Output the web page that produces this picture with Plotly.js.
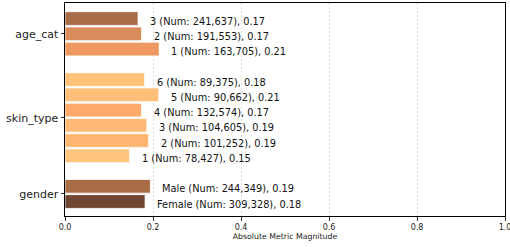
<!DOCTYPE html>
<html>
<head>
<meta charset="utf-8">
<script src="https://cdn.plot.ly/plotly-3.0.1.min.js"></script>
<style>html,body{margin:0;padding:0;background:#fff;}#chart{width:510px;height:247px;}</style>
</head>
<body>
<div id="chart"></div>
<script>
// Groups, bottom to top
const groupNames = ['gender', 'skin_type', 'age_cat'];

const genderLabels = ['Female', 'Male'];
const genderValues = [0.182, 0.194];
const genderNums = [309328, 244349];
const genderColors = ['#6e4530', '#a86c47'];

const skinLabels = ['1', '2', '3', '4', '5', '6'];
const skinValues = [0.147, 0.190, 0.186, 0.174, 0.213, 0.181];
const skinNums = [78427, 101252, 104605, 132574, 90662, 89375];
const skinColors = ['#ffc47e', '#ffb673', '#ffb975', '#ffaa6b', '#ffbf78', '#ffc27b'];

const ageLabels = ['1', '2', '3'];
const ageValues = [0.214, 0.174, 0.166];
const ageNums = [163705, 191553, 241637];
const ageColors = ['#ee9862', '#d98b5b', '#a86c47'];

const xTicks = [0, 0.2, 0.4, 0.6, 0.8, 1.0];

const groups = [
  {labels: genderLabels, values: genderValues, nums: genderNums, colors: genderColors},
  {labels: skinLabels, values: skinValues, nums: skinNums, colors: skinColors},
  {labels: ageLabels, values: ageValues, nums: ageNums, colors: ageColors}
];

// stack groups with one empty slot between them
let ys = [], xs = [], cols = [], texts = [], tickPos = [];
let pos = 0;
groups.forEach((g, gi) => {
  const start = pos;
  g.values.forEach((v, i) => {
    ys.push(pos); xs.push(v); cols.push(g.colors[i]);
    texts.push(g.labels[i] + ' (Num: ' + g.nums[i].toLocaleString('en-US') + '), ' + v.toFixed(2));
    pos += 1;
  });
  tickPos.push((start + pos - 1) / 2);
  pos += 1;
});

const trace = {
  type: 'bar', orientation: 'h',
  x: xs, y: ys, width: 0.9,
  marker: {color: cols, line: {color: 'rgba(255,255,255,0.8)', width: 1}},
  hoverinfo: 'none', showlegend: false
};

const annotations = xs.map((v, i) => ({
  x: v, y: ys[i], xref: 'x', yref: 'y', text: texts[i],
  showarrow: false, xanchor: 'left', yanchor: 'middle', xshift: 10, yshift: -2.5,
  font: {family: 'DejaVu Sans', size: 9.8, color: '#111'}
}));

const layout = {
  width: 510, height: 247,
  margin: {l: 65, r: 5, t: 3, b: 31, pad: 0},
  paper_bgcolor: '#fff', plot_bgcolor: '#fff',
  font: {family: 'DejaVu Sans', color: '#222'},
  xaxis: {
    range: [0, 1], tickvals: xTicks, ticktext: xTicks.map(t => t.toFixed(1)),
    ticks: 'outside', ticklen: 3.5, tickwidth: 0.8, tickcolor: '#000',
    tickfont: {size: 8, family: 'DejaVu Sans', color: '#222'},
    ticklabeloverflow: 'allow',
    showgrid: true, gridcolor: '#d8d8d8', griddash: '2px,2px', gridwidth: 0.8,
    zeroline: false, showline: true, linecolor: '#000', linewidth: 1, mirror: true,
    title: {text: 'Absolute Metric Magnitude', font: {size: 7.8, family: 'DejaVu Sans', color: '#222'}, standoff: 2},
    fixedrange: true
  },
  yaxis: {
    range: [-0.95, 13.02], tickvals: tickPos, ticktext: groupNames,
    ticks: 'outside', ticklen: 3.5, tickwidth: 0.8, tickcolor: '#000',
    tickfont: {size: 11, family: 'DejaVu Sans', color: '#222'},
    showgrid: false, zeroline: false, showline: true, linecolor: '#000', linewidth: 1, mirror: true,
    fixedrange: true
  },
  annotations: annotations,
  bargap: 0
};

Plotly.newPlot('chart', [trace], layout, {displayModeBar: false, staticPlot: true});
</script>
</body>
</html>
